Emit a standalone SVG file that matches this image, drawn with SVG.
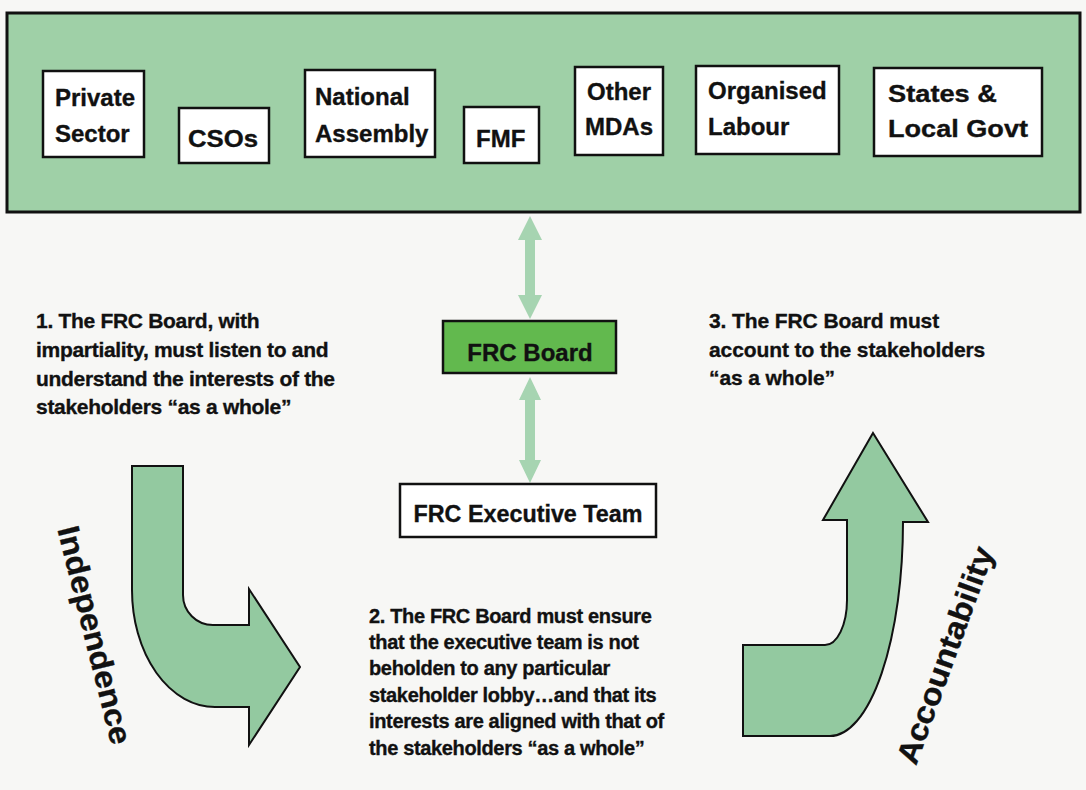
<svg xmlns="http://www.w3.org/2000/svg" width="1086" height="790" viewBox="0 0 1086 790">
  <style>
    text { font-family: "Liberation Sans", Arial, sans-serif; font-weight: bold; fill: #111; stroke: #111; stroke-width: 0.35; }
    .box { fill: #ffffff; stroke: #111; stroke-width: 2.5; }
    .lbl { font-size: 24px; }
    .para { font-size: 21px; letter-spacing: -0.3px; }
    .para3 { font-size: 21px; letter-spacing: -0.1px; }
    .para2 { font-size: 20px; letter-spacing: -0.35px; }
    .conn { fill: #a6d4b1; stroke: none; }
    .bend { fill: #93c9a0; stroke: #111; stroke-width: 2; stroke-linejoin: miter; }
    .side { font-size: 31px; }
  </style>
  <rect x="0" y="0" width="1086" height="790" fill="#f7f7f5"/>

  <g id="stakeholders-banner">
    <rect x="7" y="13" width="1073" height="199" fill="#9fd0a7" stroke="#111" stroke-width="3"/>
  </g>

  <g id="private-sector">
    <rect class="box" x="43" y="71" width="101" height="86"/>
    <text class="lbl" x="55" y="106">Private</text>
    <text class="lbl" x="55" y="142">Sector</text>
  </g>
  <g id="csos">
    <rect class="box" x="179" y="108" width="90" height="55"/>
    <text class="lbl" x="188" y="147" textLength="70" lengthAdjust="spacingAndGlyphs">CSOs</text>
  </g>
  <g id="national-assembly">
    <rect class="box" x="305" y="70" width="130" height="87"/>
    <text class="lbl" x="315" y="105">National</text>
    <text class="lbl" x="315" y="142">Assembly</text>
  </g>
  <g id="fmf">
    <rect class="box" x="464" y="107" width="75" height="56"/>
    <text class="lbl" x="476" y="147">FMF</text>
  </g>
  <g id="other-mdas">
    <rect class="box" x="575" y="67" width="88" height="88"/>
    <text class="lbl" x="587" y="100">Other</text>
    <text class="lbl" x="585" y="135">MDAs</text>
  </g>
  <g id="organised-labour">
    <rect class="box" x="696" y="66" width="143" height="88"/>
    <text class="lbl" x="708" y="99">Organised</text>
    <text class="lbl" x="708" y="135">Labour</text>
  </g>
  <g id="states-local-govt">
    <rect class="box" x="874" y="68" width="168" height="88"/>
    <text class="lbl" x="888" y="102" textLength="109" lengthAdjust="spacingAndGlyphs">States &amp;</text>
    <text class="lbl" x="888" y="137" textLength="140" lengthAdjust="spacingAndGlyphs">Local Govt</text>
  </g>

  <g id="connectors">
    <polygon class="conn" points="530,216 542,240 535,240 535,295 542,295 530,319 518,295 525,295 525,240 518,240"/>
    <polygon class="conn" points="530,377 541,400 535,400 535,460 541,460 530,483 519,460 525,460 525,400 519,400"/>
  </g>

  <g id="frc-board">
    <rect x="443" y="321" width="173" height="52" fill="#62b94e" stroke="#111" stroke-width="2.5"/>
    <text class="lbl" x="530" y="361" text-anchor="middle">FRC Board</text>
  </g>

  <g id="frc-executive-team">
    <rect class="box" x="400" y="484" width="256" height="53"/>
    <text class="lbl" x="528" y="522" text-anchor="middle" font-size="25" textLength="229" lengthAdjust="spacingAndGlyphs">FRC Executive Team</text>
  </g>

  <g id="note-1">
    <text class="para" x="36" y="328">1. The FRC Board, with</text>
    <text class="para" x="36" y="357">impartiality, must listen to and</text>
    <text class="para" x="36" y="386">understand the interests of the</text>
    <text class="para" x="36" y="414">stakeholders “as a whole”</text>
  </g>

  <g id="note-2">
    <text class="para2" x="369" y="623">2. The FRC Board must ensure</text>
    <text class="para2" x="369" y="649">that the executive team is not</text>
    <text class="para2" x="369" y="675">beholden to any particular</text>
    <text class="para2" x="369" y="702">stakeholder lobby…and that its</text>
    <text class="para2" x="369" y="728">interests are aligned with that of</text>
    <text class="para2" x="369" y="755">the stakeholders “as a whole”</text>
  </g>

  <g id="note-3">
    <text class="para3" x="709" y="328">3. The FRC Board must</text>
    <text class="para3" x="709" y="357">account to the stakeholders</text>
    <text class="para3" x="709" y="385">“as a whole”</text>
  </g>

  <g id="independence-arrow">
    <path class="bend" d="M132 466 L183 466 L183 595 A30 30 0 0 0 213 625 L249 625 L249 589 L300 667 L249 745 L249 707 L215 707 A83 117 0 0 1 132 590 Z"/>
    <text class="side" transform="translate(95 635) rotate(76)" text-anchor="middle" dy="0.35em" textLength="224" lengthAdjust="spacingAndGlyphs">Independence</text>
  </g>

  <g id="accountability-arrow">
    <path class="bend" d="M873 433 L928 522 L903 522 A73 214 0 0 1 830 736 L743 736 L743 645 L825 645 A22 45 0 0 0 847 600 L847 520 L823 520 Z"/>
    <text class="side" transform="translate(945 655) rotate(-70)" text-anchor="middle" dy="0.35em" textLength="229" lengthAdjust="spacingAndGlyphs">Accountability</text>
  </g>
</svg>
